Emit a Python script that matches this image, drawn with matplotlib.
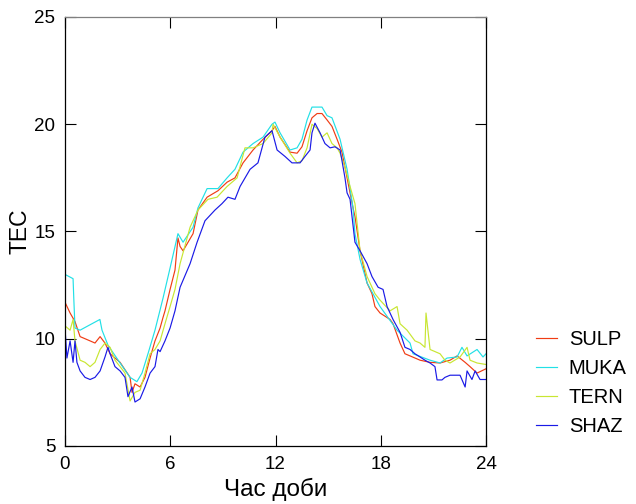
import matplotlib
matplotlib.use("Agg")
import matplotlib.pyplot as plt

plt.rcParams['font.family'] = ['Liberation Sans', 'DejaVu Sans']

sulp_h = [0, 0.29, 0.57, 0.86, 1.43, 1.71, 2.0, 2.28, 2.57, 3.14, 3.71, 3.82, 3.99, 4.28, 4.56, 4.85,
          5.13, 5.42, 5.59, 5.7, 5.99, 6.27, 6.44, 6.56, 6.73, 7.3, 7.58, 8.1, 8.72, 9.24, 9.69, 10.15,
          10.72, 11.29, 11.8, 11.97, 12.26, 12.83, 13.23, 13.51, 13.8, 14.08, 14.37, 14.65, 14.94, 15.22,
          15.51, 15.79, 16.08, 16.42, 16.53, 16.82, 17.22, 17.5, 17.67, 17.96, 18.53, 18.7, 19.1, 19.38,
          19.67, 20.24, 20.81, 21.38, 21.95, 22.35, 22.81, 23.09, 23.49, 24.0]
sulp_v = [11.7, 11.2, 10.8, 10.1, 9.9, 9.8, 10.1, 9.8, 9.3, 8.9, 8.2, 7.5, 7.9, 7.75, 8.2, 9.1,
          9.9, 10.5, 11.0, 11.3, 12.3, 13.2, 14.7, 14.3, 14.1, 14.9, 16.0, 16.6, 16.9, 17.3, 17.5, 18.2,
          18.8, 19.3, 19.7, 19.9, 19.4, 18.7, 18.65, 18.95, 19.7, 20.3, 20.5, 20.5, 20.2, 19.9,
          19.3, 18.7, 17.5, 16.1, 15.7, 14.1, 12.6, 12.1, 11.5, 11.2, 10.9, 10.7, 9.8, 9.3,
          9.2, 9.0, 8.9, 8.87, 9.0, 9.2, 8.9, 8.7, 8.4, 8.6]

muka_h = [0, 0.46, 0.5, 0.57, 0.86, 1.31, 1.99, 2.11, 2.45, 3.14, 3.71, 4.1, 4.39, 4.73, 5.13, 5.59,
          5.99, 6.44, 6.73, 7.3, 7.58, 8.1, 8.72, 9.24, 9.69, 10.15, 10.72, 11.29, 11.8, 11.97, 12.26,
          12.83, 13.23, 13.51, 13.8, 14.08, 14.65, 14.94, 15.22, 15.68, 16.08, 16.42, 16.53, 16.82,
          17.22, 17.96, 18.93, 19.67, 19.84, 20.81, 21.38, 21.78, 22.35, 22.63, 22.92, 23.49, 23.83, 24.0]
muka_v = [13.0, 12.8, 11.9, 10.5, 10.4, 10.6, 10.9, 10.4, 9.7, 8.87, 8.2, 8.0, 8.4, 9.3, 10.4, 11.9,
          13.3, 14.9, 14.5, 15.2, 16.1, 17.0, 17.0, 17.5, 17.9, 18.7, 19.1, 19.4, 20.0, 20.1, 19.6,
          18.8, 18.9, 19.3, 20.2, 20.8, 20.8, 20.4, 20.3, 19.3, 17.9, 16.1, 14.9, 13.7,
          12.6, 11.5, 10.4, 9.8, 9.3, 9.0, 8.87, 9.1, 9.15, 9.6, 9.2, 9.5, 9.15, 9.3]

tern_h = [0, 0.29, 0.46, 0.57, 0.86, 1.14, 1.43, 1.71, 2.0, 2.28, 2.57, 2.85, 3.14, 3.42, 3.71, 3.99,
          4.28, 4.56, 4.85, 5.13, 5.42, 5.7, 5.99, 6.27, 6.56, 7.13, 7.58, 8.15, 8.67, 9.24, 9.81, 10.26,
          10.72, 11.29, 11.8, 11.86, 12.26, 12.83, 13.23, 13.51, 13.8, 14.08, 14.37, 14.65, 14.94, 15.22,
          15.51, 15.68, 15.96, 16.25, 16.53, 16.82, 17.22, 17.67, 17.96, 18.53, 18.93, 19.1, 19.5,
          19.95, 20.24, 20.52, 20.58, 20.81, 21.38, 21.66, 21.95, 22.52, 22.92, 23.09, 23.49, 24.0]
tern_v = [10.6, 10.4, 10.9, 9.9, 9.0, 8.9, 8.7, 8.9, 9.5, 9.8, 9.6, 9.0, 8.7, 8.4, 7.1, 7.5,
          7.6, 8.4, 9.3, 9.5, 9.9, 10.7, 11.5, 12.3, 13.5, 15.2, 16.0, 16.5, 16.6, 17.1, 17.5, 18.9,
          18.9, 19.1, 19.6, 20.0, 19.4, 18.65, 18.2, 18.3, 18.9, 20.0, 19.8, 19.4, 19.6, 19.1,
          18.9, 18.65, 18.0, 17.1, 16.3, 14.1, 12.9, 12.1, 11.8, 11.3, 11.5, 10.7, 10.4,
          9.9, 9.8, 9.6, 11.2, 9.5, 9.3, 9.0, 8.87, 9.15, 9.6, 9.0, 8.87, 8.8]

shaz_h = [0, 0.11, 0.29, 0.46, 0.57, 0.68, 0.86, 1.14, 1.43, 1.71, 2.0, 2.28, 2.45, 2.57, 2.85, 3.14,
          3.42, 3.59, 3.82, 3.99, 4.28, 4.56, 4.85, 5.13, 5.3, 5.42, 5.7, 5.99, 6.27, 6.56, 7.13, 7.53,
          7.98, 8.55, 8.95, 9.29, 9.69, 9.98, 10.55, 11.0, 11.4, 11.8, 12.09, 12.54, 12.94, 13.4,
          13.68, 13.97, 14.08, 14.25, 14.54, 14.82, 15.11, 15.39, 15.68, 15.79, 15.96, 16.08, 16.25,
          16.53, 16.82, 17.22, 17.5, 17.85, 18.13, 18.36, 18.7, 19.1, 19.38, 19.67, 19.95, 20.24,
          20.52, 20.81, 21.09, 21.21, 21.49, 21.66, 21.95, 22.52, 22.81, 22.92, 23.2, 23.38, 23.66, 24.0]
shaz_v = [10.5, 9.1, 9.9, 8.9, 9.9, 8.9, 8.5, 8.2, 8.1, 8.2, 8.5, 9.15, 9.6, 9.3, 8.7, 8.5,
          8.2, 7.3, 7.75, 7.05, 7.2, 7.75, 8.4, 8.7, 9.5, 9.4, 9.9, 10.5, 11.3, 12.4, 13.5, 14.5,
          15.5, 16.0, 16.3, 16.6, 16.5, 17.1, 17.9, 18.2, 19.4, 19.7, 18.8, 18.5, 18.2, 18.2,
          18.5, 18.8, 19.6, 20.05, 19.6, 19.1, 18.9, 18.95, 18.8, 18.3, 17.5, 16.8, 16.5,
          14.5, 14.1, 13.5, 12.9, 12.4, 12.3, 11.5, 10.9, 10.3, 9.6, 9.5, 9.3, 9.15,
          9.0, 8.87, 8.7, 8.08, 8.08, 8.2, 8.3, 8.3, 7.75, 8.5, 8.1, 8.5, 8.1, 8.1]

labels = ['SULP', 'MUKA', 'TERN', 'SHAZ']
colors = ['#f03c14', '#22e0e6', '#c8e632', '#1a1ae6']
x_ticks = [0, 6, 12, 18, 24]
y_ticks = [5, 10, 15, 20, 25]

fig = plt.figure(figsize=(6.36, 5.04), dpi=100)
ax = fig.add_axes([65/636, 1-446/504, (486-65)/636, (446-17)/504])

for h, v, lab, c in zip([sulp_h, muka_h, tern_h, shaz_h], [sulp_v, muka_v, tern_v, shaz_v], labels, colors):
    ax.plot(h, v, color=c, lw=0.85, label=lab)

ax.set_xlim(0, 24)
ax.set_ylim(5, 25)
ax.set_xticks(x_ticks)
ax.set_yticks(y_ticks)
ax.tick_params(direction='in', length=8, width=0.8, top=True, right=True, labelsize=13.5, pad=7)
for s in ax.spines.values():
    s.set_linewidth(0.9)
ax.spines['top'].set_color('#808080')
ax.set_xlabel('Час доби', fontsize=17.5, labelpad=4)
ax.set_ylabel('TEC', fontsize=16.5, labelpad=2)

fig.legend(loc='center left', bbox_to_anchor=(0.815, 0.24), frameon=False, fontsize=14.5,
           handlelength=1.0, handletextpad=0.6, labelspacing=0.5)

fig.savefig('out.png', dpi=100)
